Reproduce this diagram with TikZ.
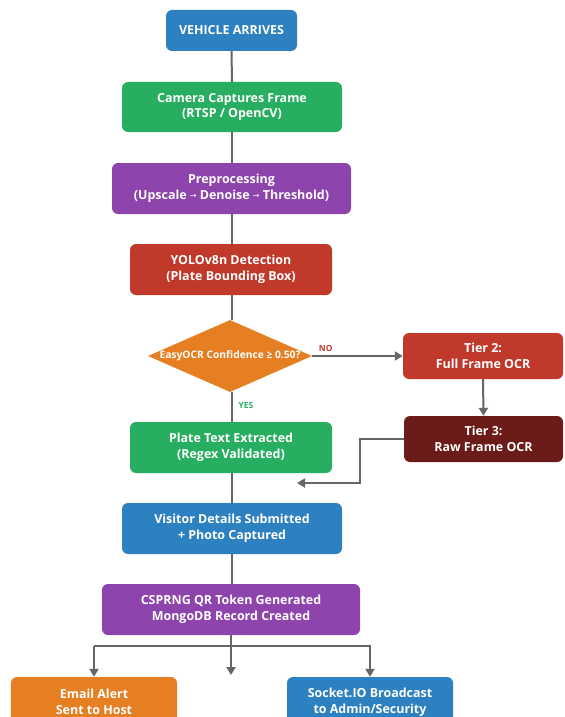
\documentclass[tikz,border=0pt]{standalone}
\usepackage{fontspec}
\setmainfont{Open Sans}
\newfontfamily\symfont{DejaVu Sans}
\usetikzlibrary{shapes.geometric,arrows.meta}
\definecolor{cblue}{HTML}{2E81C0}
\definecolor{cgreen}{HTML}{28AE60}
\definecolor{cpurple}{HTML}{8E44AD}
\definecolor{cred}{HTML}{C0392B}
\definecolor{corange}{HTML}{E67E22}
\definecolor{cdark}{HTML}{6B1C18}
\definecolor{cline}{HTML}{666666}
\newcommand{\rarr}{\raisebox{1bp}{\symfont\mdseries\fontsize{8}{10}\selectfont →}}
\tikzset{
  box/.style={rounded corners=6bp, draw=none, text=white, align=center,
    font=\bfseries\fontsize{12.5}{16}\selectfont, inner sep=0pt},
  link/.style={draw=cline, line width=2bp},
  arr/.style={link, -{Triangle[length=8bp,width=9bp]}},
  lab/.style={font=\bfseries\fontsize{8.5}{10}\selectfont, inner sep=0pt}
}
\begin{document}
\begin{tikzpicture}[x=1bp,y=-1bp]
\useasboundingbox (0,0) rectangle (565,717);
\node[box, fill=cblue, minimum width=131bp, minimum height=41bp] (start) at (231.5,30.5) {VEHICLE ARRIVES};
\node[box, fill=cgreen, minimum width=220bp, minimum height=50bp] (cam) at (232,107) {Camera Captures Frame\\(RTSP / OpenCV)};
\node[box, fill=cpurple, minimum width=239bp, minimum height=51bp] (pre) at (231.5,188.5) {Preprocessing\\(Upscale \rarr\ Denoise \rarr\ Threshold)};
\node[box, fill=cred, minimum width=202bp, minimum height=51bp] (yolo) at (231,269.5) {YOLOv8n Detection\\(Plate Bounding Box)};
\node[diamond, fill=corange, text=white, minimum width=164bp, minimum height=72bp, inner sep=0pt,
  font=\bfseries\fontsize{10.3}{12}\selectfont] (dec) at (230,356) {\makebox[0pt]{EasyOCR Confidence ≥ 0.50?}};
\node[box, fill=cred, minimum width=160bp, minimum height=46bp] (tier2) at (483,356) {Tier 2:\\Full Frame OCR};
\node[box, fill=cdark, minimum width=159bp, minimum height=46bp] (tier3) at (483.5,439) {Tier 3:\\Raw Frame OCR};
\node[box, fill=cgreen, minimum width=202bp, minimum height=51bp] (plate) at (231,447.5) {Plate Text Extracted\\(Regex Validated)};
\node[box, fill=cblue, minimum width=220bp, minimum height=51bp] (visitor) at (232,528.5) {Visitor Details Submitted\\+ Photo Captured};
\node[box, fill=cpurple, minimum width=258bp, minimum height=51bp] (qr) at (231,609.5) {CSPRNG QR Token Generated\\MongoDB Record Created};
\node[box, fill=corange, minimum width=166bp, minimum height=50bp] (email) at (94,702) {Email Alert\\Sent to Host};
\node[box, fill=cblue, minimum width=166bp, minimum height=50bp] (socket) at (370,702) {Socket.IO Broadcast\\to Admin/Security};

\coordinate (ret) at (297,483);
\coordinate (mid) at (231,675);
\coordinate (split) at (231,646);

\draw[link] (start.south) -- (cam.north);
\draw[link] (cam.south -| start.south) -- (pre.north -| start.south);
\draw[link] (pre.south -| start.south) -- (yolo.north -| start.south);
\draw[link] (yolo.south -| start.south) -- (dec.north -| start.south);
\draw[link] (dec.south -| start.south) -- node[lab, text=cgreen, pos=0.45, right=6bp] (yes) {YES} (plate.north -| start.south);
\draw[link] (plate.south -| start.south) -- (visitor.north -| start.south);
\draw[link] (visitor.south -| start.south) -- (qr.north -| start.south);
\draw[arr] (dec.east) -- node[lab, text=cred, pos=0.15, above=3bp] (no) {NO} (tier2.west);
\draw[arr] (tier2.south) -- (tier3.north);
\draw[arr] (tier3.west) -- (360,439) -- (360,483) -- (ret);
\draw[arr] (qr.south) -- (mid);
\draw[arr] (split -| email.north) -- (split -| socket.north) -- (socket.north);
\draw[arr] (split -| email.north) -- (email.north);
\end{tikzpicture}
\end{document}
